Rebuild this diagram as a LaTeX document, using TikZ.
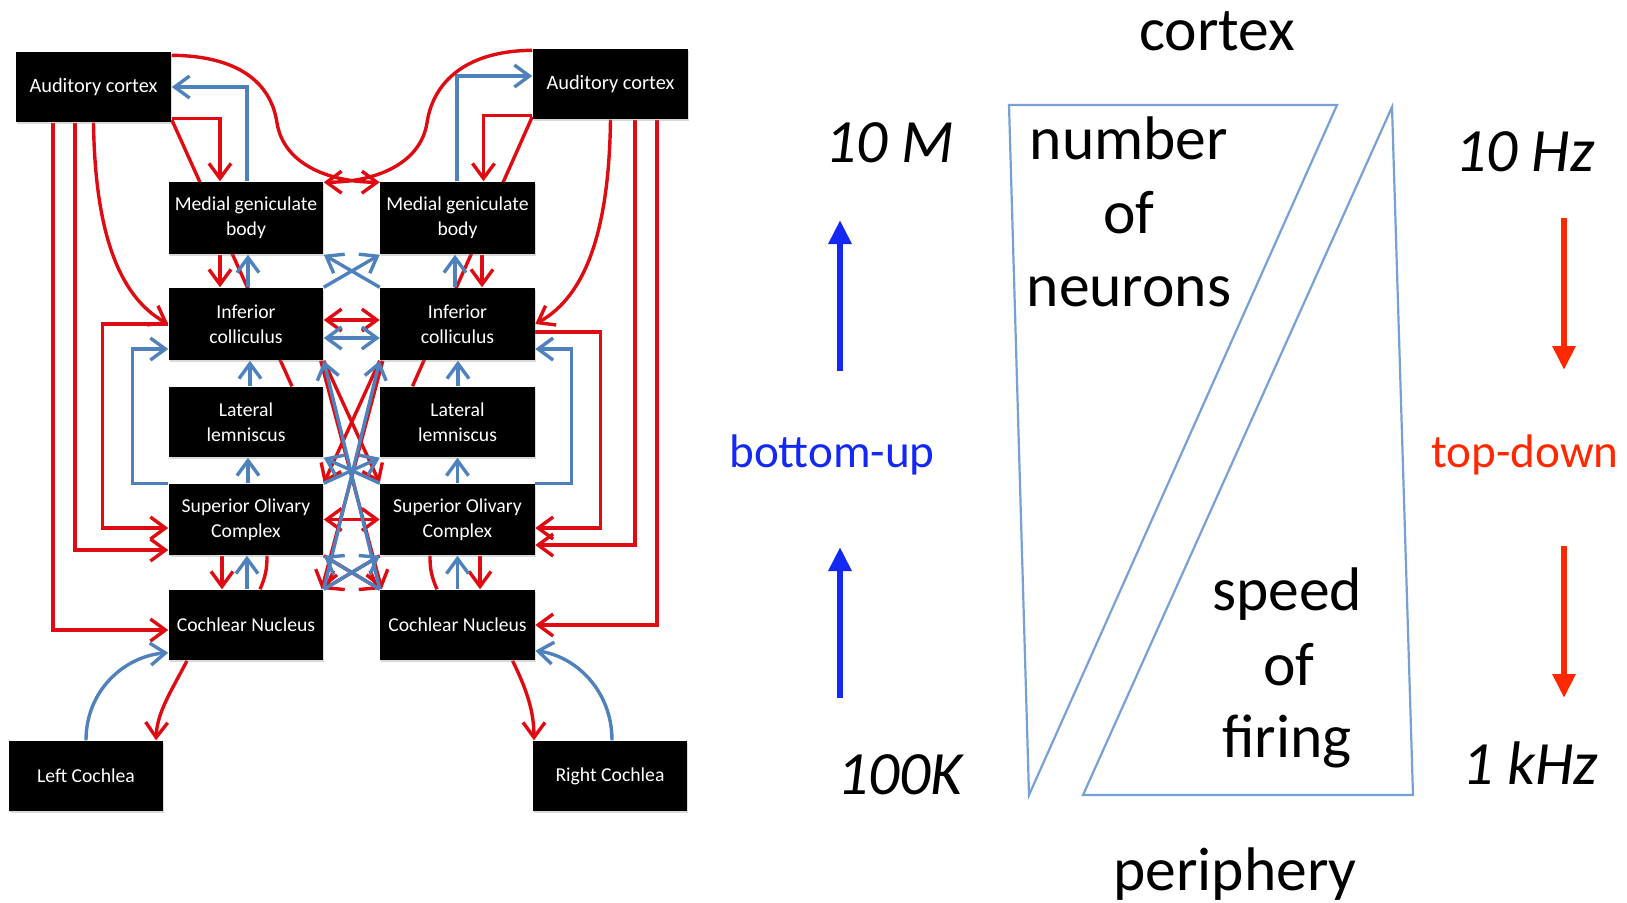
\documentclass[tikz,border=0pt]{standalone}
\usepackage{fontspec}
\setmainfont{Carlito}
\usetikzlibrary{arrows.meta,shadows}
\pgfdeclarelayer{bg}
\pgfsetlayers{bg,main}
\definecolor{pathred}{RGB}{222,12,18}
\definecolor{pathblue}{RGB}{79,129,189}
\definecolor{upblue}{RGB}{20,40,245}
\definecolor{downred}{RGB}{255,40,0}
\definecolor{wedge}{RGB}{118,160,214}
\tikzset{
  Vbarb/.tip={Straight Barb[length=0.15cm,width=0.22cm]},
  station/.style={fill=black, text=white, minimum width=1.54cm, minimum height=0.71cm,
    inner sep=0pt, align=center, font=\fontsize{5.6pt}{7.1pt}\selectfont,
    drop shadow={shadow xshift=0.01cm, shadow yshift=-0.02cm, opacity=0.3}},
  redline/.style={draw=pathred, line width=0.034cm},
  blueline/.style={draw=pathblue, line width=0.034cm},
  redarrow/.style={redline, -{Vbarb}},
  bluearrow/.style={blueline, -{Vbarb}},
  reddouble/.style={redline, {Vbarb}-{Vbarb}},
  bluedouble/.style={blueline, {Vbarb}-{Vbarb}},
  bigtext/.style={font=\fontsize{17.5pt}{21pt}\selectfont, inner sep=0pt, anchor=base},
  numtext/.style={font=\fontsize{17.5pt}{21pt}\selectfont\itshape, inner sep=0pt, anchor=base},
  dirtext/.style={font=\fontsize{13.4pt}{16pt}\selectfont, inner sep=0pt, anchor=base},
  wedgeline/.style={draw=wedge, line width=0.022cm},
  uparrow/.style={draw=upblue, line width=0.065cm, -{Triangle[length=0.24cm,width=0.22cm]}},
  downarrow/.style={draw=downred, line width=0.065cm, -{Triangle[length=0.24cm,width=0.22cm]}}
}
\begin{document}
\begin{tikzpicture}[x=0.01cm, y=-0.01cm]
\useasboundingbox (0,0) rectangle (1627,902);

% ---------- auditory pathway: stations ----------
\node[station, minimum width=1.55cm, minimum height=0.70cm, font=\fontsize{5.8pt}{7.1pt}\selectfont] (acL) at (93.5,87) {Auditory cortex};
\node[station, minimum width=1.55cm, minimum height=0.70cm, font=\fontsize{5.8pt}{7.1pt}\selectfont] (acR) at (610.5,84) {Auditory cortex};
\node[station, minimum height=0.72cm] (mgL) at (246,218) {Medial geniculate\\body};
\node[station, minimum height=0.72cm] (mgR) at (457.5,218) {Medial geniculate\\body};
\node[station, minimum height=0.72cm] (icL) at (246,324) {Inferior\\colliculus};
\node[station, minimum height=0.72cm] (icR) at (457.5,324) {Inferior\\colliculus};
\node[station, minimum height=0.70cm] (llL) at (246,422) {Lateral\\lemniscus};
\node[station, minimum height=0.70cm] (llR) at (457.5,422) {Lateral\\lemniscus};
\node[station] (socL) at (246,519.5) {Superior Olivary\\Complex};
\node[station] (socR) at (457.5,519.5) {Superior Olivary\\Complex};
\node[station, minimum height=0.70cm] (cnL) at (246,625) {Cochlear Nucleus};
\node[station, minimum height=0.70cm] (cnR) at (457.5,625) {Cochlear Nucleus};
\node[station, minimum height=0.70cm] (lcoch) at (86,776) {Left Cochlea};
\node[station, minimum height=0.70cm] (rcoch) at (610,776) {Right Cochlea};

\begin{pgfonlayer}{bg}
% left side: cortex and thalamus
\draw[redarrow] ([yshift=0.04cm]acL.south east) -| ([xshift=-0.26cm]mgL.north);
\draw[redline] ([yshift=0.03cm]acL.south east) -- ([xshift=0.46cm]llL.north);
\draw[bluearrow] ([xshift=0.01cm]mgL.north) |- (acL.east);
\draw[redarrow] ([yshift=-0.04cm]acL.north east) .. controls (245,56) and (272,88) .. (277,123)
  .. controls (284,165) and (330,182) .. ([yshift=-0.01cm]mgR.north west);
\draw[redarrow] (acL.south) .. controls (95,230) and (118,296) .. (icL.west);
\draw[redarrow] (icL.west) -- ++(-66,0) |- ([yshift=-0.085cm]socL.west);
\draw[bluearrow] (socL.north west) -- ++(-36,0) |- ([yshift=-0.25cm]icL.west);
\draw[redarrow] ([xshift=-0.185cm]acL.south) |- ([yshift=-0.305cm]socL.west);
\draw[redarrow] ([xshift=-0.405cm]acL.south) |- ([yshift=-0.05cm]cnL.west);
% left side: brainstem column
\draw[redarrow] ([xshift=-0.26cm]mgL.south) -- ([xshift=-0.26cm]icL.north);
\draw[bluearrow] ([xshift=0.02cm]icL.north) -- ([xshift=0.02cm]mgL.south);
\draw[bluearrow] ([xshift=0.04cm]llL.north) -- ([xshift=0.04cm]icL.south);
\draw[bluearrow] ([xshift=0.02cm]socL.north) -- ([xshift=0.02cm]llL.south);
\draw[redarrow] ([xshift=-0.24cm]socL.south) -- ([xshift=-0.24cm]cnL.north);
\draw[bluearrow] ([xshift=0.01cm]cnL.north) -- ([xshift=0.01cm]socL.south);
\draw[redline] ([xshift=0.21cm]socL.south) to[bend left=12] ([xshift=0.14cm]cnL.north);
% left cochlea
\draw[bluearrow] (lcoch.north) .. controls (86,690) and (125,656) .. ([yshift=0.08cm]cnL.south west);
\draw[redarrow] ([xshift=-0.59cm]cnL.south) .. controls (172,690) and (157,712) .. ([xshift=0.7cm]lcoch.north);

% right side: cortex and thalamus
\draw[redarrow] ([yshift=0.04cm]acR.south west) -| ([xshift=0.26cm]mgR.north);
\draw[redline] ([yshift=0.03cm]acR.south west) -- ([xshift=-0.45cm]llR.north);
\draw[bluearrow] ([xshift=-0.005cm]mgR.north) |- ([yshift=0.08cm]acR.west);
\draw[redarrow] ([yshift=-0.02cm]acR.north west) .. controls (459,51) and (432,88) .. (427,123)
  .. controls (420,165) and (374,182) .. ([yshift=-0.01cm]mgL.north east);
\draw[redarrow] (acR.south) .. controls (609,230) and (586,296) .. (icR.east);
\draw[redarrow] ([yshift=-0.08cm]icR.east) -- ++(65,0) |- ([yshift=-0.085cm]socR.east);
\draw[bluearrow] (socR.north east) -- ++(36,0) |- ([yshift=-0.25cm]icR.east);
\draw[redarrow] ([xshift=0.245cm]acR.south) |- ([yshift=-0.255cm]socR.east);
\draw[redarrow] ([xshift=0.465cm]acR.south) |- (cnR.east);
% right side: brainstem column
\draw[redarrow] ([xshift=0.245cm]mgR.south) -- ([xshift=0.245cm]icR.north);
\draw[bluearrow] ([xshift=-0.025cm]icR.north) -- ([xshift=-0.025cm]mgR.south);
\draw[bluearrow] ([xshift=0.005cm]llR.north) -- ([xshift=0.005cm]icR.south);
\draw[bluearrow] (socR.north) -- (llR.south);
\draw[redarrow] ([xshift=0.225cm]socR.south) -- ([xshift=0.225cm]cnR.north);
\draw[bluearrow] (cnR.north) -- (socR.south);
\draw[redline] ([xshift=-0.275cm]socR.south) to[bend right=12] ([xshift=-0.205cm]cnR.north);
% right cochlea
\draw[redarrow] ([xshift=0.55cm]cnR.south) .. controls (527,690) and (534,712) .. ([xshift=-0.76cm]rcoch.north);
\draw[bluearrow] ([xshift=0.02cm]rcoch.north) .. controls (612,690) and (575,656) .. ([yshift=0.1cm]cnR.south east);

% crossings between the two sides
\draw[bluearrow] (icL.north east) -- (mgR.south west);
\draw[bluearrow] (icR.north west) -- (mgL.south east);
\draw[reddouble] ([yshift=0.04cm]icL.east) -- ([yshift=0.04cm]icR.west);
\draw[bluedouble] ([yshift=-0.14cm]icL.east) -- ([yshift=-0.14cm]icR.west);
\draw[reddouble] (socL.east) -- (socR.west);
\draw[redarrow] ([xshift=-0.03cm]icL.south east) -- ([xshift=0.02cm]cnR.north west);
\draw[redarrow] ([xshift=0.03cm]icR.south west) -- ([xshift=-0.02cm]cnL.north east);
\draw[redarrow] (icL.south east) -- (socR.north west);
\draw[redarrow] (icR.south west) -- (socL.north east);
\draw[redarrow] (socL.south east) -- (cnR.north west);
\draw[redarrow] (socR.south west) -- (cnL.north east);
\draw[bluearrow] (cnL.north east) -- (icR.south west);
\draw[bluearrow] (cnR.north west) -- (icL.south east);
\draw[bluearrow] (socL.north east) -- (llR.south west);
\draw[bluearrow] (socR.north west) -- (llL.south east);
\draw[bluearrow] (cnL.north east) -- (socR.south west);
\draw[bluearrow] (cnR.north west) -- (socL.south east);
\end{pgfonlayer}

% ---------- hierarchy sketch ----------
\draw[wedgeline] (1009,105) -- (1337,105) -- (1029,795) -- cycle;
\draw[wedgeline] (1392,107) -- (1413,795) -- (1083,795) -- cycle;

\node[bigtext] (lblcortex) at (1217,50) {cortex};
\node[bigtext] (lblperiph) at (1235,890) {periphery};
\node[bigtext] (num1) at (1129,159) {number};
\node[bigtext] (num2) at (1129,233) {of};
\node[bigtext] (num3) at (1129,306) {neurons};
\node[bigtext] (spd1) at (1287,610) {speed};
\node[bigtext] (spd2) at (1289,685) {of};
\node[bigtext] (spd3) at (1287,757) {firing};

\node[numtext] (tenM) at (890,162) {10 M};
\node[numtext] (hundK) at (900,794) {100K};
\node[numtext] (tenHz) at (1525,171) {10 Hz};
\node[numtext] (onekHz) at (1530,784) {1 kHz};

\node[dirtext, text=upblue] (bu) at (832,467) {bottom-up};
\node[dirtext, text=downred] (td) at (1525,467) {top-down};

\coordinate (bua) at (840,371); \coordinate (bub) at (840,220);
\coordinate (buc) at (840,698); \coordinate (bud) at (840,547);
\draw[uparrow] (bua) -- (bub);
\draw[uparrow] (buc) -- (bud);
\coordinate (tda) at (1564,218); \coordinate (tdb) at (1564,370);
\coordinate (tdc) at (1564,546); \coordinate (tdd) at (1564,698);
\draw[downarrow] (tda) -- (tdb);
\draw[downarrow] (tdc) -- (tdd);
\end{tikzpicture}
\end{document}
